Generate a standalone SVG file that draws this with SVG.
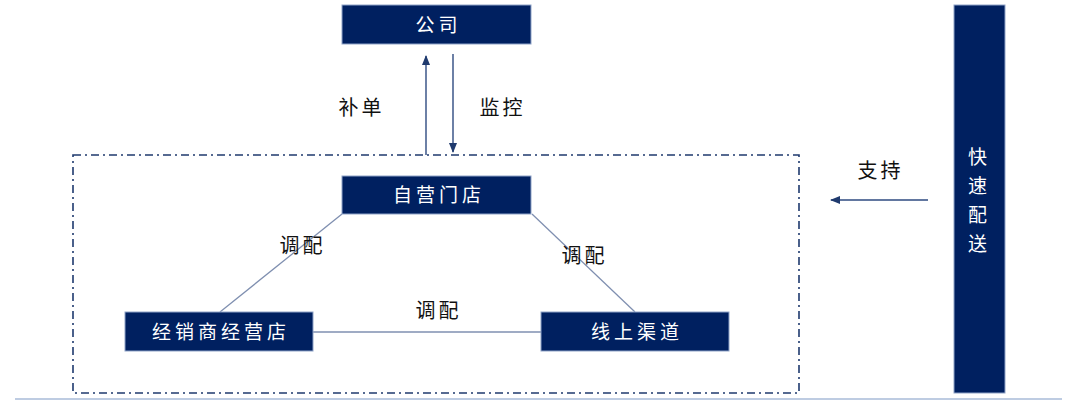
<svg xmlns="http://www.w3.org/2000/svg" width="1080" height="401" viewBox="0 0 1080 401">
<defs>
<style>
.box{fill:#002060;stroke:#8fa3c8;stroke-width:1}
.bt{fill:#ffffff;font-family:"Noto Sans CJK SC","Noto Sans",sans-serif;font-size:19px;letter-spacing:4px;text-anchor:middle}
.lt{fill:#111111;font-family:"Noto Sans CJK SC","Noto Sans",sans-serif;font-size:20px;letter-spacing:3px;text-anchor:middle}
.ln{stroke:#7f8fb0;stroke-width:1.3;fill:none}
.ar{stroke:#2e4a80;stroke-width:1.4;fill:none}
</style>
<marker id="ah" markerWidth="10" markerHeight="8" refX="9" refY="4" orient="auto" markerUnits="userSpaceOnUse">
<path d="M0,0 L10,4 L0,8 z" fill="#1f3a6e"/>
</marker>
</defs>
<rect x="0" y="0" width="1080" height="401" fill="#ffffff"/>
<line x1="15" y1="399" x2="1062" y2="399" stroke="#a9bbd8" stroke-width="1.5"/>
<rect id="scope" x="73" y="155" width="726" height="238" fill="none" stroke="#1f3a6e" stroke-width="1.6" stroke-dasharray="8,4,2,4"/>
<g id="connectors">
<line class="ar" x1="426" y1="155" x2="426" y2="56" marker-end="url(#ah)"/>
<line class="ar" x1="453" y1="54" x2="453" y2="152" marker-end="url(#ah)"/>
<line class="ar" x1="928" y1="200" x2="831" y2="200" marker-end="url(#ah)"/>
<line class="ln" x1="220" y1="312" x2="342" y2="214"/>
<line class="ln" x1="532" y1="214" x2="635" y2="312"/>
<line class="ln" x1="313" y1="332" x2="541" y2="332"/>
</g>
<g id="labels">
<text class="lt" x="361.5" y="114.5">补单</text>
<text class="lt" x="502.5" y="114.5">监控</text>
<text class="lt" x="880.5" y="177.5">支持</text>
<text class="lt" x="302.5" y="252.5">调配</text>
<text class="lt" x="584.5" y="262.5">调配</text>
<text class="lt" x="438.5" y="317.5">调配</text>
</g>
<g id="company">
<rect class="box" x="342" y="5" width="189" height="39"/>
<text class="bt" x="438.5" y="31.5">公司</text>
</g>
<g id="self-store">
<rect class="box" x="342" y="176" width="189" height="38"/>
<text class="bt" x="439" y="202">自营门店</text>
</g>
<g id="dealer-store">
<rect class="box" x="125" y="312" width="188" height="39"/>
<text class="bt" x="221" y="338.5">经销商经营店</text>
</g>
<g id="online">
<rect class="box" x="541" y="312" width="188" height="39"/>
<text class="bt" x="637" y="338.5">线上渠道</text>
</g>
<g id="delivery">
<rect class="box" x="954" y="5" width="51" height="388"/>
<text class="bt" x="979.5" y="164" letter-spacing="0">快</text>
<text class="bt" x="979.5" y="192.5" letter-spacing="0">速</text>
<text class="bt" x="979.5" y="222" letter-spacing="0">配</text>
<text class="bt" x="979.5" y="250.5" letter-spacing="0">送</text>
</g>
</svg>
